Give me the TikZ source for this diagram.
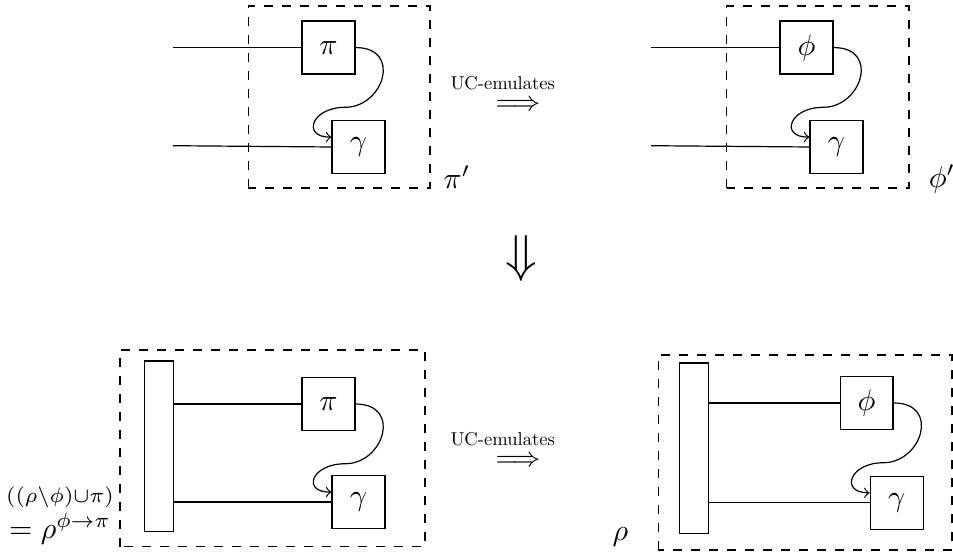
\documentclass[tikz,border=0pt]{standalone}
\usepackage{graphicx}
\usetikzlibrary{positioning}
\begin{document}
\begin{tikzpicture}[box/.style={draw, rectangle, minimum size=0.62cm, inner sep=0pt},
  bar/.style={draw, rectangle, minimum width=0.34cm, minimum height=2cm, inner sep=0pt},
  uc/.style={inner sep=0pt}]
\useasboundingbox (0,0) rectangle (11.165,6.467);

% top left: pi'
\draw[dashed] (2.909,4.264) rectangle (5.037,6.396);
\node[box] (pia) at (3.848,5.910) {$\pi$};
\node[box] (gama) at (4.200,4.745) {$\gamma$};
\coordinate (ina) at (2.027,5.910);
\coordinate (inb) at (2.027,4.760);
\node (pip) at (5.354,4.393) {$\pi'$};
\draw (ina) -- (pia.west);
\draw (inb) -- (gama.west);
\draw[->] (pia.east) .. controls +(0.55,0) and +(0.45,0) .. ++(-0.12,-0.7)
  .. controls +(-0.4,0) and +(-0.35,0) .. (gama.160);

% top right: phi'
\draw[dashed] (8.513,4.264) rectangle (10.649,6.396);
\node[box] (phib) at (9.448,5.910) {$\phi$};
\node[box] (gamb) at (9.800,4.745) {$\gamma$};
\coordinate (inc) at (7.627,5.910);
\coordinate (ind) at (7.627,4.760);
\node (phip) at (11.036,4.370) {$\phi'$};
\draw (inc) -- (phib.west);
\draw (ind) -- (gamb.west);
\draw[->] (phib.east) .. controls +(0.55,0) and +(0.45,0) .. ++(-0.12,-0.7)
  .. controls +(-0.4,0) and +(-0.35,0) .. (gamb.160);

% emulation arrows
\node[uc] (uca) at (5.890,5.490) {\scalebox{0.62}{UC-emulates}};
\node[uc, font=\small] (arra) at (6.068,5.230) {$\Longrightarrow$};
\node[font=\LARGE] (down) at (6.104,3.433) {$\Downarrow$};
\node[uc] (ucb) at (5.890,1.320) {\scalebox{0.62}{UC-emulates}};
\node[uc, font=\small] (arrb) at (6.068,1.060) {$\Longrightarrow$};

% bottom left: rho with phi replaced by pi
\draw[dashed] (1.406,0.062) rectangle (4.979,2.366);
\node[bar] (barc) at (1.859,1.238) {};
\node[box] (pic) at (3.848,1.734) {$\pi$};
\node[box] (gamc) at (4.200,0.586) {$\gamma$};
\node[align=center, inner sep=0pt] (rhopi) at (0.703,0.433) {{\scriptsize $((\rho\backslash\phi){\cup}\pi)$}\\$=\rho^{\phi\rightarrow\pi}$};
\draw (barc.east |- pic.west) -- (pic.west);
\draw (barc.east |- gamc.west) -- (gamc.west);
\draw[->] (pic.east) .. controls +(0.55,0) and +(0.45,0) .. ++(-0.12,-0.7)
  .. controls +(-0.4,0) and +(-0.35,0) .. (gamc.160);

% bottom right: rho
\draw[dashed] (7.712,0.023) rectangle (11.153,2.308);
\node[bar] (bard) at (8.128,1.215) {};
\node[box] (phid) at (10.153,1.746) {$\phi$};
\node[box] (gamd) at (10.505,0.578) {$\gamma$};
\node (rho) at (7.269,0.182) {$\rho$};
\draw (bard.east |- phid.west) -- (phid.west);
\draw (bard.east |- gamd.west) -- (gamd.west);
\draw[->] (phid.east) .. controls +(0.55,0) and +(0.45,0) .. ++(-0.12,-0.7)
  .. controls +(-0.4,0) and +(-0.35,0) .. (gamd.160);
\end{tikzpicture}
\end{document}
